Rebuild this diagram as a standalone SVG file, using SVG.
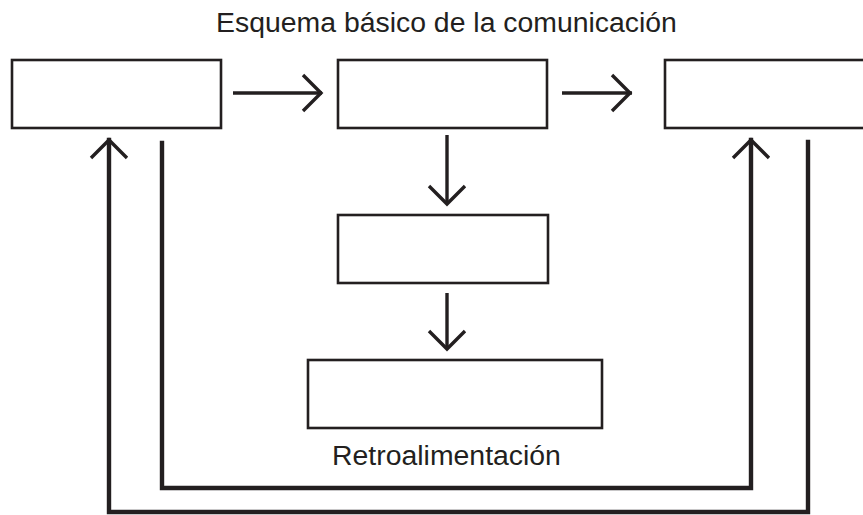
<svg xmlns="http://www.w3.org/2000/svg" width="863" height="515" viewBox="0 0 863 515">
<style>
.box{fill:#fff;stroke:#231f20;stroke-width:2.6}
.ln{fill:none;stroke:#231f20;stroke-width:3.4;stroke-linejoin:miter}
.fb{fill:none;stroke:#231f20;stroke-width:4.4;stroke-linejoin:miter;stroke-linecap:square}
.t{font-family:"Liberation Sans",Arial,sans-serif;font-size:28.4px;fill:#231f20;text-anchor:middle}
</style>
<rect width="863" height="515" fill="#fff"/>
<text class="t" x="446.5" y="32">Esquema básico de la comunicación</text>
<g id="n1"><rect class="box" x="12" y="60" width="209" height="68"/></g>
<g id="n2"><rect class="box" x="338" y="60" width="209" height="68"/></g>
<g id="n3"><rect class="box" x="665" y="60" width="210" height="68"/></g>
<g id="n4"><rect class="box" x="338" y="215" width="210" height="68"/></g>
<g id="n5"><rect class="box" x="308" y="360" width="294" height="68"/></g>
<text class="t" x="446.5" y="465">Retroalimentación</text>
<g id="connectors">
<line class="ln" x1="233" y1="93" x2="322" y2="93"/>
<polyline class="ln" points="303,75 321,93 303,111"/>
<line class="ln" x1="562" y1="93" x2="632" y2="93"/>
<polyline class="ln" points="612,75 630,93 612,111"/>
<line class="ln" x1="447" y1="135" x2="447" y2="204"/>
<polyline class="ln" points="429,186 447,204 465,186"/>
<line class="ln" x1="447" y1="293" x2="447" y2="349"/>
<polyline class="ln" points="429,331 447,349 465,331"/>
<polyline class="fb" points="162,143 162,488 751,488 751,140"/>
<polyline class="ln" points="733,158 751,140 769,158"/>
<polyline class="fb" points="808,142 808,512 109,512 109,140"/>
<polyline class="ln" points="91,158 109,140 127,158"/>
</g>
</svg>
